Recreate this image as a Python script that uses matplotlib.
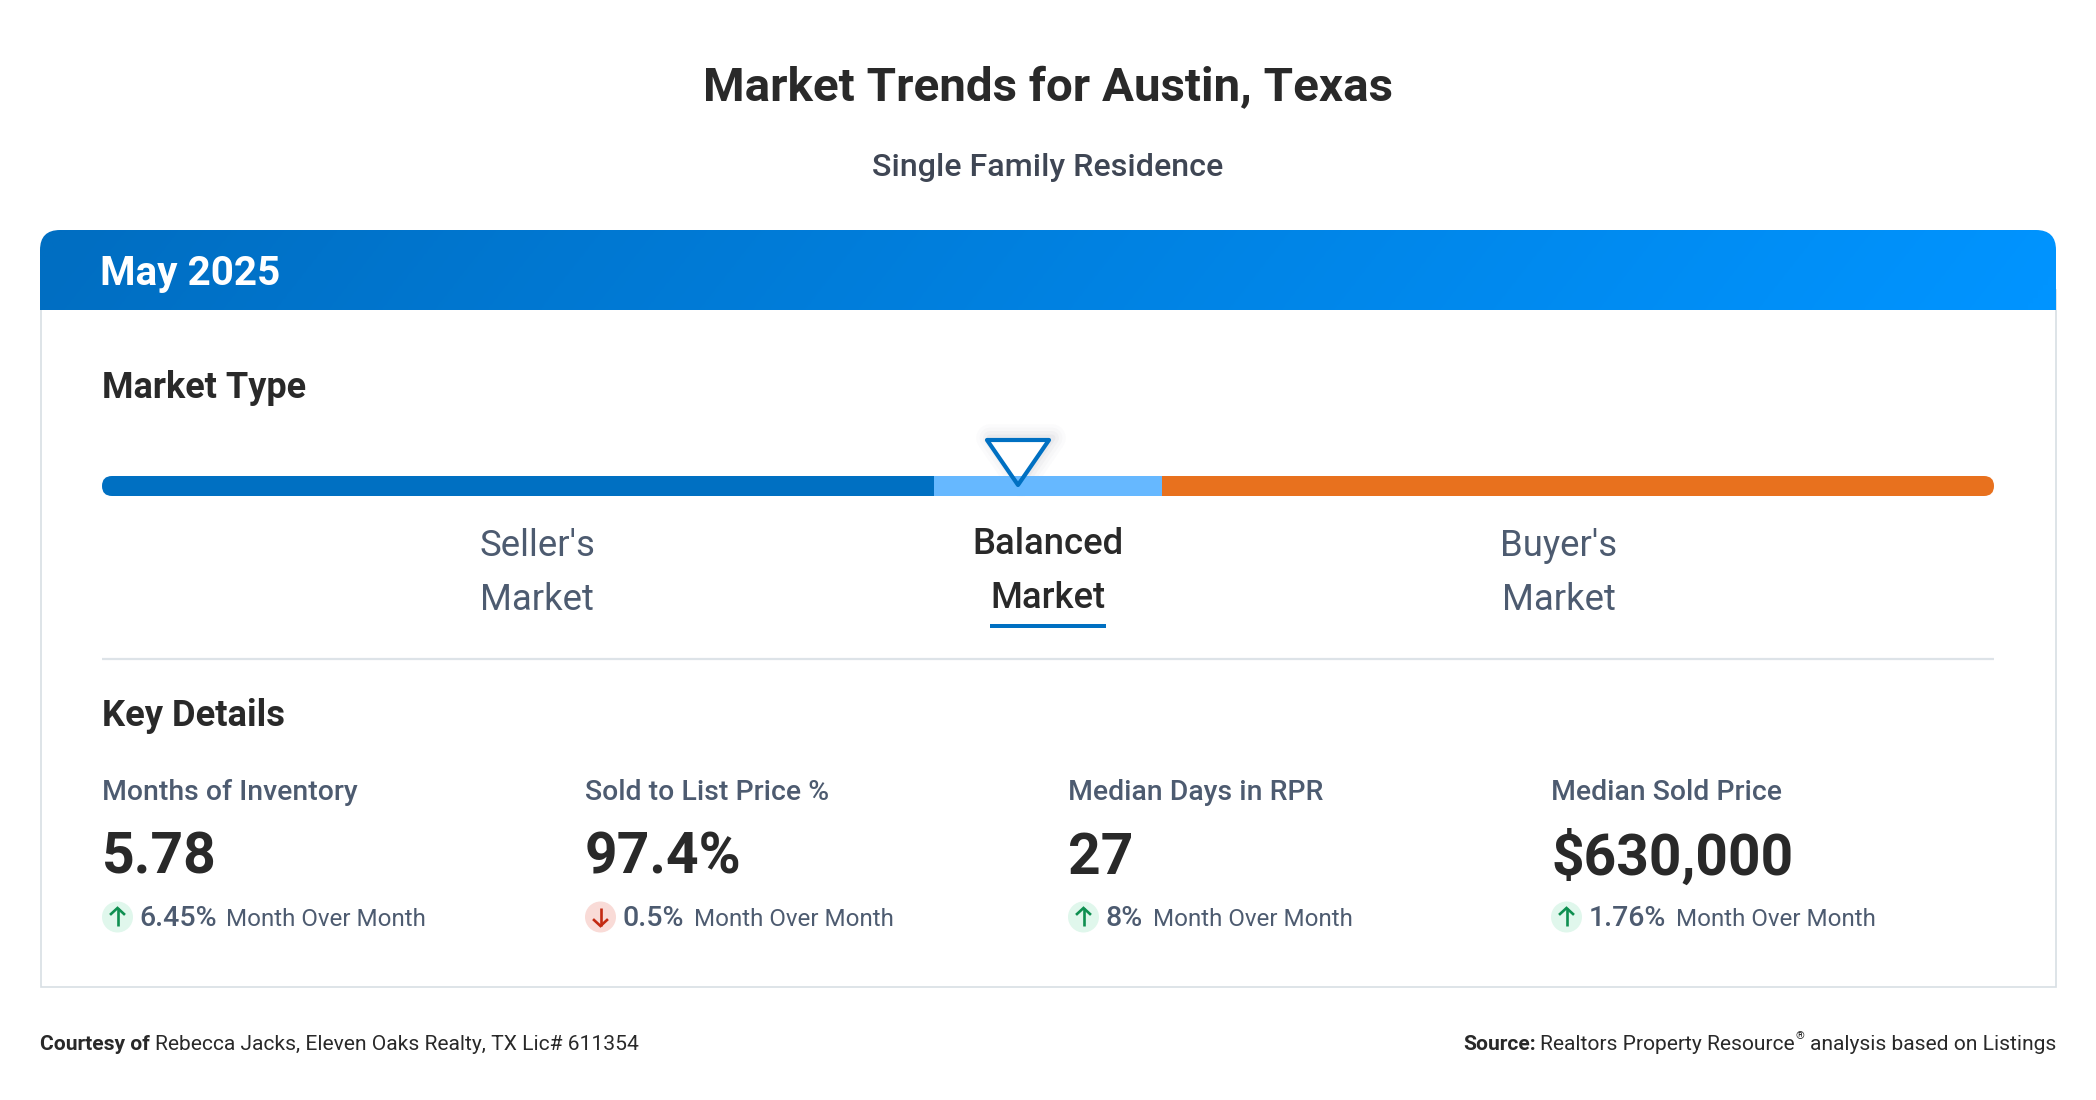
import numpy as np
import matplotlib
matplotlib.use("Agg")
import matplotlib.pyplot as plt
from matplotlib.patches import FancyBboxPatch, Rectangle, Circle, Polygon

plt.rcParams["font.family"] = ["Roboto", "DejaVu Sans"]

# Text and values
title = "Market Trends for Austin, Texas"
subtitle = "Single Family Residence"
period = "May 2025"
market_labels = [("Seller's", "Market"), ("Balanced", "Market"), ("Buyer's", "Market")]
metric_names = ["Months of Inventory", "Sold to List Price %", "Median Days in RPR", "Median Sold Price"]
metric_values = ["5.78", "97.4%", "27", "$630,000"]
metric_changes = ["6.45%", "0.5%", "8%", "1.76%"]
metric_up = [True, False, True, True]

# Layout, in pixels of the 2096x1100 picture
column_x = [102, 585, 1068, 1551]
change_note_x = [226.5, 694, 1153, 1676]
market_label_x = [537, 1048, 1559]

DARK = "#292929"
SLATE = "#4d5b70"
BLUE = "#0070c2"
LIGHT_BLUE = "#66b8ff"
ORANGE = "#e8711e"
BORDER = "#d8dfe4"

fig = plt.figure(figsize=(20.96, 11), dpi=100)
ax = fig.add_axes([0, 0, 1, 1])
ax.set_xlim(0, 2096)
ax.set_ylim(1100, 0)
ax.axis("off")

ax.text(1048, 88.5, title, fontsize=34.2, fontweight="bold", color=DARK, ha="center", va="center")
ax.text(1048, 168, subtitle, fontsize=23.2, fontweight="medium", color="#3f4654", ha="center", va="center")

# Card outline and header with its gradient
ax.add_patch(Rectangle((40.5, 290), 2015, 697, fc="white", ec=BORDER, lw=1.2))
header_clip = FancyBboxPatch((40, 230), 2016, 100, boxstyle="round,pad=0,rounding_size=20",
                             fc="none", ec="none")
ax.add_patch(header_clip)
xx, yy = np.meshgrid(np.linspace(0, 1, 400), np.linspace(0, 1, 30))
shade = np.clip(xx + 0.03 * (yy - 0.5), 0, 1)
start, end = np.array([0, 110, 194]), np.array([0, 148, 255])
grad = (start + (end - start) * shade[..., None]) / 255
im = ax.imshow(grad, extent=(40, 2056, 310, 230), aspect="auto", zorder=2)
im.set_clip_path(header_clip)
ax.set_xlim(0, 2096)
ax.set_ylim(1100, 0)
ax.text(100, 274, period, fontsize=29.2, fontweight="bold", color="white", va="center", zorder=3)

# Market type scale
ax.text(102, 388, "Market Type", fontsize=25.9, fontweight="bold", color=DARK, va="center")
bar_clip = FancyBboxPatch((102, 476), 1892, 20, boxstyle="round,pad=0,rounding_size=10", fc="none", ec="none")
ax.add_patch(bar_clip)
for x0, x1, c in [(102, 934, BLUE), (934, 1162, LIGHT_BLUE), (1162, 1994, ORANGE)]:
    seg = ax.add_patch(Rectangle((x0, 476), x1 - x0, 20, fc=c, ec="none"))
    seg.set_clip_path(bar_clip)

# Marker with a soft shadow
tri = [(987, 440), (1049, 440), (1018, 485)]
shadow = [(x + 3, y - 2) for x, y in tri]
for w, a in [(20, 0.02), (15, 0.025), (10, 0.035), (5, 0.05)]:
    ax.add_patch(Polygon(shadow, closed=True, fc="none", ec="#5a6470", lw=w, alpha=a,
                         joinstyle="round", zorder=3))
ax.add_patch(Polygon(tri, closed=True, fc="white", ec="none", zorder=4))
ax.add_patch(Polygon([(960, 476), (1076, 476), (1076, 496), (960, 496)], fc=LIGHT_BLUE, ec="none", zorder=3.5))
ax.add_patch(Polygon([(1004, 476), (1032, 476), (1018, 485)], fc=LIGHT_BLUE, ec="none", zorder=4.1))
ax.add_patch(Polygon(tri, closed=True, fc="none", ec=BLUE, lw=3.0, joinstyle="round", zorder=5))

for i, (line1, line2) in enumerate(market_labels):
    selected = i == 1
    dy = -2 if selected else 0
    kw = dict(fontsize=26.3, ha="center", va="center",
              color=DARK if selected else SLATE,
              fontweight="medium" if selected else "normal")
    ax.text(market_label_x[i], 546.5 + dy, line1, **kw)
    ax.text(market_label_x[i], 600.5 + dy, line2, **kw)
ax.add_patch(Rectangle((990, 624), 116, 4, fc=BLUE, ec="none"))
ax.plot([102, 1994], [659, 659], color="#dde3e8", lw=1.6, solid_capstyle="butt")

# Key details
ax.text(102, 716.5, "Key Details", fontsize=26.2, fontweight="bold", color=DARK, va="center")
for i in range(4):
    x = column_x[i]
    ax.text(x, 792, metric_names[i], fontsize=20.4, fontweight="medium", color=SLATE, va="center")
    ax.text(x, 858.5, metric_values[i], fontsize=41, fontweight="bold", color=DARK, va="center")
    up = metric_up[i]
    cx, cy = x + 15.5, 917
    ax.add_patch(Circle((cx, cy), 15.5, fc="#e0f7ec" if up else "#f9dbd7", ec="none"))
    color = "#0e8f50" if up else "#c32a12"
    tip, tail = (cy - 9, cy + 9) if up else (cy + 9, cy - 9)
    head = 6 if up else -6
    ax.plot([cx, cx], [tail, tip], color=color, lw=1.9, solid_capstyle="butt")
    ax.plot([cx - 6.5, cx, cx + 6.5], [tip + head, tip, tip + head], color=color, lw=1.9, solid_joinstyle="miter")
    ax.text(x + 37.5, 918, metric_changes[i], fontsize=20.5, fontweight="medium", color=SLATE, va="center")
    ax.text(change_note_x[i], 919, "Month Over Month", fontsize=17.35, color=SLATE, va="center")

# Footer
ax.text(40, 1044, "Courtesy of", fontsize=15.1, fontweight="bold", color=DARK, va="center")
ax.text(155, 1044, "Rebecca Jacks, Eleven Oaks Realty, TX Lic# 611354", fontsize=15.1, color=DARK, va="center")
ax.text(1463, 1044, "Source:", fontsize=15.1, fontweight="bold", color=DARK, va="center")
ax.text(1540, 1044, "Realtors Property Resource", fontsize=15.1, color=DARK, va="center")
ax.text(1796, 1036, "®", fontsize=8, color=DARK, va="center")
ax.text(2056, 1044, "analysis based on Listings", fontsize=15.1, color=DARK, va="center", ha="right")

fig.savefig("out.png", dpi=100)
